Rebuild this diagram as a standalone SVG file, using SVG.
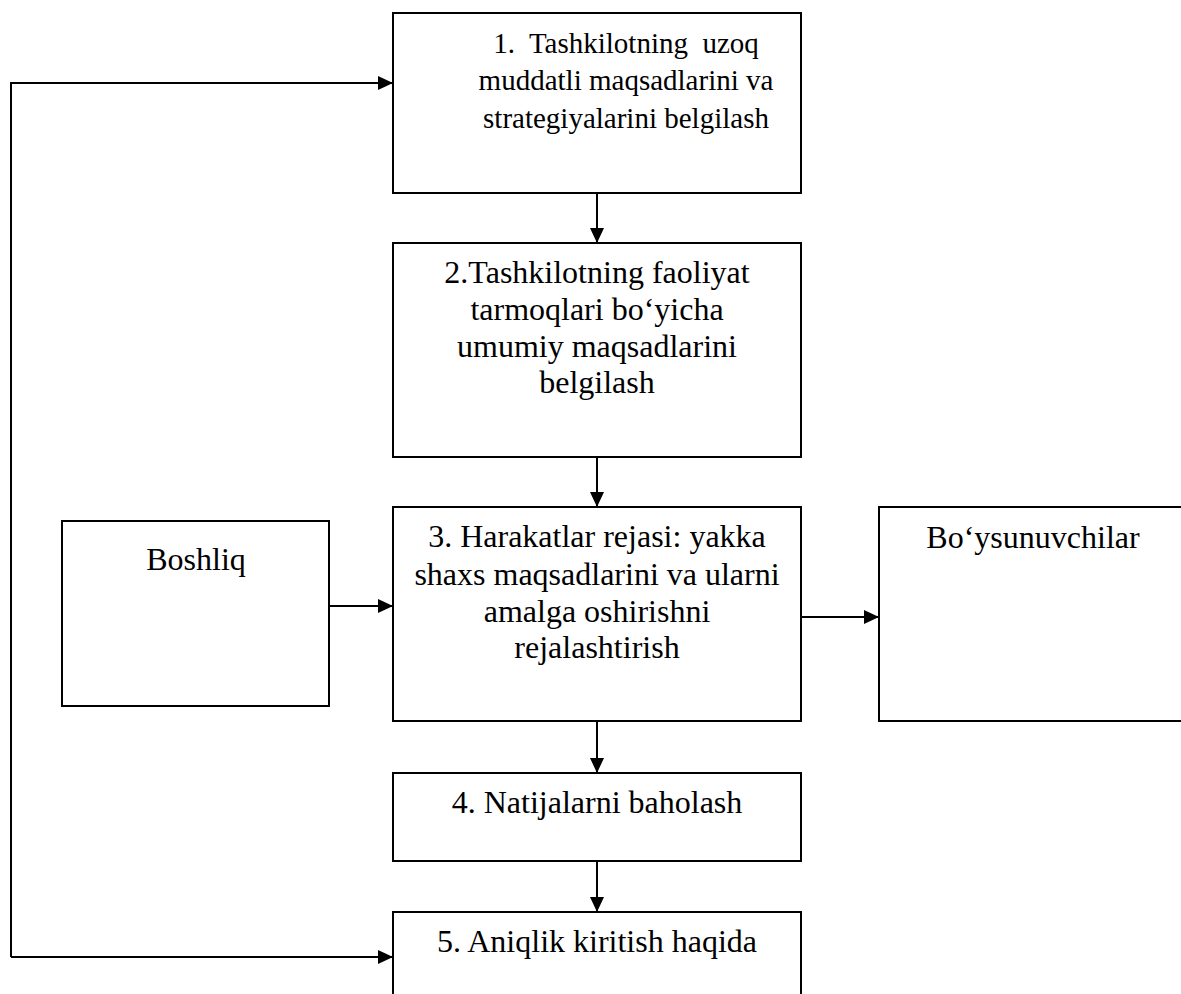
<svg xmlns="http://www.w3.org/2000/svg" width="1181" height="994" viewBox="0 0 1181 994">
<style>
.box{fill:#fff;stroke:#000;stroke-width:2}
.t{font-family:'Liberation Serif','Tinos','DejaVu Serif',serif;font-size:32px;fill:#000;text-anchor:middle;white-space:pre}
.t1{font-size:29px}
.c{fill:none;stroke:#000;stroke-width:2}
</style>
<defs>
<marker id="ah" markerUnits="userSpaceOnUse" markerWidth="16" markerHeight="14" refX="15" refY="7" orient="auto">
<path d="M0,0 L15,7 L0,14 z" fill="#000"/>
</marker>
</defs>
<rect width="1181" height="994" fill="#fff"/>
<g id="connectors">
<path class="c" d="M597,193 V243" marker-end="url(#ah)"/>
<path class="c" d="M597,457 V507" marker-end="url(#ah)"/>
<path class="c" d="M597,721 V773" marker-end="url(#ah)"/>
<path class="c" d="M597,861 V912" marker-end="url(#ah)"/>
<path class="c" d="M329,606 H393" marker-end="url(#ah)"/>
<path class="c" d="M801,617 H879" marker-end="url(#ah)"/>
<path class="c" d="M11,957 V83 H393" marker-end="url(#ah)"/>
<path class="c" d="M11,957 H393" marker-end="url(#ah)"/>
</g>
<g id="node1">
<rect class="box" x="393" y="13" width="408" height="180"/>
<text class="t t1" x="626" y="53">1.  Tashkilotning  uzoq</text>
<text class="t t1" x="626" y="90">muddatli maqsadlarini va</text>
<text class="t t1" x="626" y="128">strategiyalarini belgilash</text>
</g>
<g id="node2">
<rect class="box" x="393" y="243" width="408" height="214"/>
<text class="t" x="597" y="283">2.Tashkilotning faoliyat</text>
<text class="t" x="597" y="320">tarmoqlari bo‘yicha</text>
<text class="t" x="597" y="357">umumiy maqsadlarini</text>
<text class="t" x="597" y="393">belgilash</text>
</g>
<g id="node3">
<rect class="box" x="393" y="507" width="408" height="214"/>
<text class="t" x="597" y="547">3. Harakatlar rejasi: yakka</text>
<text class="t" x="597" y="585">shaxs maqsadlarini va ularni</text>
<text class="t" x="597" y="622">amalga oshirishni</text>
<text class="t" x="597" y="658">rejalashtirish</text>
</g>
<g id="boshliq">
<rect class="box" x="62" y="521" width="267" height="185"/>
<text class="t" x="196" y="570">Boshliq</text>
</g>
<g id="boysunuvchilar">
<rect class="box" x="879" y="507" width="310" height="214"/>
<text class="t" x="1033" y="548">Bo‘ysunuvchilar</text>
</g>
<g id="node4">
<rect class="box" x="393" y="773" width="408" height="88"/>
<text class="t" x="597" y="813">4. Natijalarni baholash</text>
</g>
<g id="node5">
<rect class="box" x="393" y="912" width="408" height="100"/>
<text class="t" x="597" y="952">5. Aniqlik kiritish haqida</text>
</g>
</svg>
